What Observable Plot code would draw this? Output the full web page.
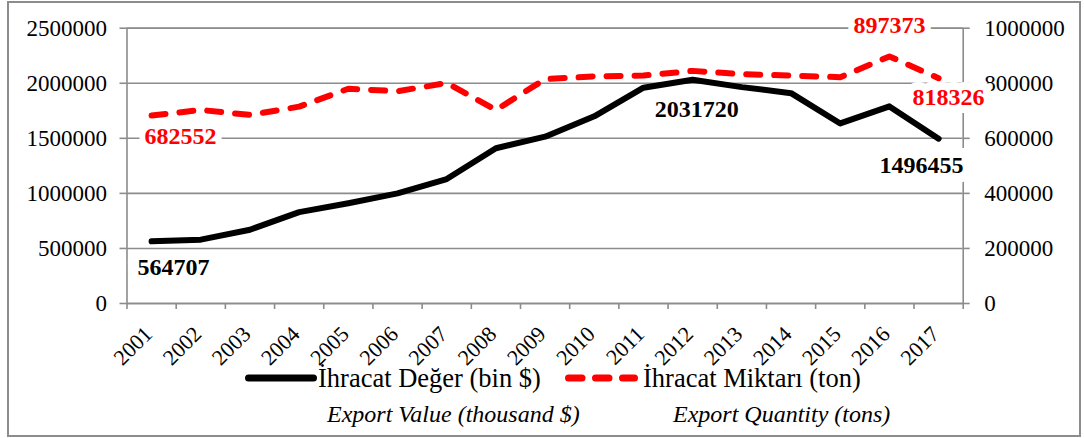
<!DOCTYPE html>
<html>
<head>
<meta charset="utf-8">
<script src="https://cdn.jsdelivr.net/npm/d3@7"></script>
<script src="https://cdn.jsdelivr.net/npm/@observablehq/plot@0.6"></script>
<style>
  html, body { margin: 0; padding: 0; background: #fff; }
  #wrap { position: relative; width: 1084px; height: 438px; overflow: hidden;
          font-family: "Liberation Serif", "Times New Roman", serif; color: #000; }
  #border { position: absolute; left: 7px; top: 1px; width: 1074px; height: 436px;
            border: 2px solid #8c8c8c; box-sizing: border-box; pointer-events: none; }
  #chart { position: absolute; left: 0; top: 0; }
  .lg { position: absolute; white-space: nowrap; line-height: 1; }
  .tr { font-size: 26.5px; }
  .en { font-size: 24px; font-style: italic; }
  svg.sw { position: absolute; overflow: visible; }
</style>
</head>
<body>
<div id="wrap">
  <div id="border"></div>
  <div id="chart"></div>
</div>
<script>
// ---- data ----
const years = [2001, 2002, 2003, 2004, 2005, 2006, 2007, 2008, 2009,
               2010, 2011, 2012, 2013, 2014, 2015, 2016, 2017];
// İhracat Değer (bin $) — left axis
const exportValue = [564707, 580000, 670000, 830000, 910000, 1000000, 1130000, 1410000, 1515000,
                     1700000, 1960000, 2031720, 1965000, 1910000, 1635000, 1790000, 1496455];
// İhracat Miktarı (ton) — right axis
const exportQty = [682552, 703000, 685000, 715000, 780000, 771000, 801000, 703000, 815000,
                   825000, 828000, 845000, 833000, 828000, 822000, 897373, 818326];
const leftTicks = [0, 500000, 1000000, 1500000, 2000000, 2500000];
const rightTicks = [0, 200000, 400000, 600000, 800000, 1000000];
const seriesNames = ["İhracat Değer (bin $)", "İhracat Miktarı (ton)"];
const seriesNamesEn = ["Export Value (thousand $)", "Export Quantity (tons)"];

// right axis maps onto the left scale
const ratio = leftTicks[leftTicks.length - 1] / rightTicks[rightTicks.length - 1];

const data = years.map((year, i) => ({year, value: exportValue[i], qty: exportQty[i]}));
const bounds = years.map(y => y - 0.5).concat([years[years.length - 1] + 0.5]);
const at = y => data.filter(d => d.year === y);

const GRAY = "#8c8c8c";
const RED = "#ff0000";

function valueLabel(year, dx, dy, halo) {
  return Plot.text(at(year), {x: "year", y: "value", text: d => String(d.value),
    dx, dy, fill: "#000", fontWeight: "bold", fontSize: 24,
    stroke: "white", strokeWidth: halo, paintOrder: "stroke", strokeLinejoin: "miter"});
}
function qtyLabel(year, dx, dy, halo) {
  return Plot.text(at(year), {x: "year", y: d => d.qty * ratio, text: d => String(d.qty),
    dx, dy, fill: RED, fontWeight: "bold", fontSize: 24,
    stroke: "white", strokeWidth: halo, paintOrder: "stroke", strokeLinejoin: "miter"});
}

const chart = Plot.plot({
  width: 1084,
  height: 372,
  marginLeft: 126.5,
  marginRight: 121.3,
  marginTop: 27.7,
  marginBottom: 69,
  x: {type: "linear", domain: [bounds[0], bounds[bounds.length - 1]], label: null},
  y: {domain: [0, leftTicks[leftTicks.length - 1]], label: null},
  style: {fontFamily: '"Liberation Serif", "Times New Roman", serif', fontSize: "23px",
          color: "#000", background: "transparent", overflow: "visible"},
  marks: [
    Plot.gridY(leftTicks, {stroke: GRAY, strokeOpacity: 1, strokeWidth: 1.6}),
    Plot.frame({stroke: GRAY, strokeWidth: 1.6}),
    Plot.axisY(leftTicks, {anchor: "left", tickFormat: d => String(d), tickSize: 7, tickPadding: 13,
      stroke: GRAY, strokeWidth: 1.6, fill: "#000", fontSize: 23}),
    Plot.axisY(leftTicks, {anchor: "right", tickFormat: d => String(Math.round(d / ratio)),
      tickSize: 6, tickPadding: 15, stroke: GRAY, strokeWidth: 1.6, fill: "#000", fontSize: 23}),
    Plot.axisX(bounds, {tickFormat: () => "", tickSize: 6, stroke: GRAY, strokeWidth: 1.6}),
    Plot.axisX(years, {tickFormat: d => String(d), tickSize: 0, tickPadding: 27, tickRotate: -45,
      dx: -3, fill: "#000", fontSize: 22}),
    Plot.lineY(data, {x: "year", y: "value", stroke: "#000", strokeWidth: 6,
      strokeLinecap: "round", strokeLinejoin: "round"}),
    Plot.lineY(data, {x: "year", y: d => d.qty * ratio, stroke: RED, strokeWidth: 6,
      strokeDasharray: "14,14", strokeLinecap: "round", strokeLinejoin: "round"}),
    valueLabel(2001, 22, 26, 20),
    valueLabel(2012, 4, 30, 8),
    valueLabel(2017, -17, 27, 20),
    qtyLabel(2001, 29, 21, 12),
    qtyLabel(2016, 0, -31, 12),
    qtyLabel(2017, 10, 19, 16)
  ]
});
document.getElementById("chart").appendChild(chart);

// ---- legend (below the SVG) ----
const wrap = document.getElementById("wrap");
function addText(txt, cls, left, top) {
  const d = document.createElement("div");
  d.className = "lg " + cls;
  d.textContent = txt;
  d.style.left = left + "px";
  d.style.top = top + "px";
  wrap.appendChild(d);
}
function addSwatch(left, width, color, dash) {
  const ns = "http://www.w3.org/2000/svg";
  const s = document.createElementNS(ns, "svg");
  s.setAttribute("class", "sw");
  s.setAttribute("width", width);
  s.setAttribute("height", 10);
  s.style.left = left + "px";
  s.style.top = "373px";
  const l = document.createElementNS(ns, "line");
  l.setAttribute("x1", 3.5); l.setAttribute("x2", width - 3.5);
  l.setAttribute("y1", 5); l.setAttribute("y2", 5);
  l.setAttribute("stroke", color);
  l.setAttribute("stroke-width", 7);
  l.setAttribute("stroke-linecap", "round");
  if (dash) l.setAttribute("stroke-dasharray", dash);
  s.appendChild(l);
  wrap.appendChild(s);
}
addSwatch(245, 72, "#000", null);
addText(seriesNames[0], "tr", 318, 365);
addSwatch(565, 73, RED, "13.5,13.5");
addText(seriesNames[1], "tr", 643, 365);
addText(seriesNamesEn[0], "en", 327, 402);
addText(seriesNamesEn[1], "en", 673, 402);
</script>
</body>
</html>
